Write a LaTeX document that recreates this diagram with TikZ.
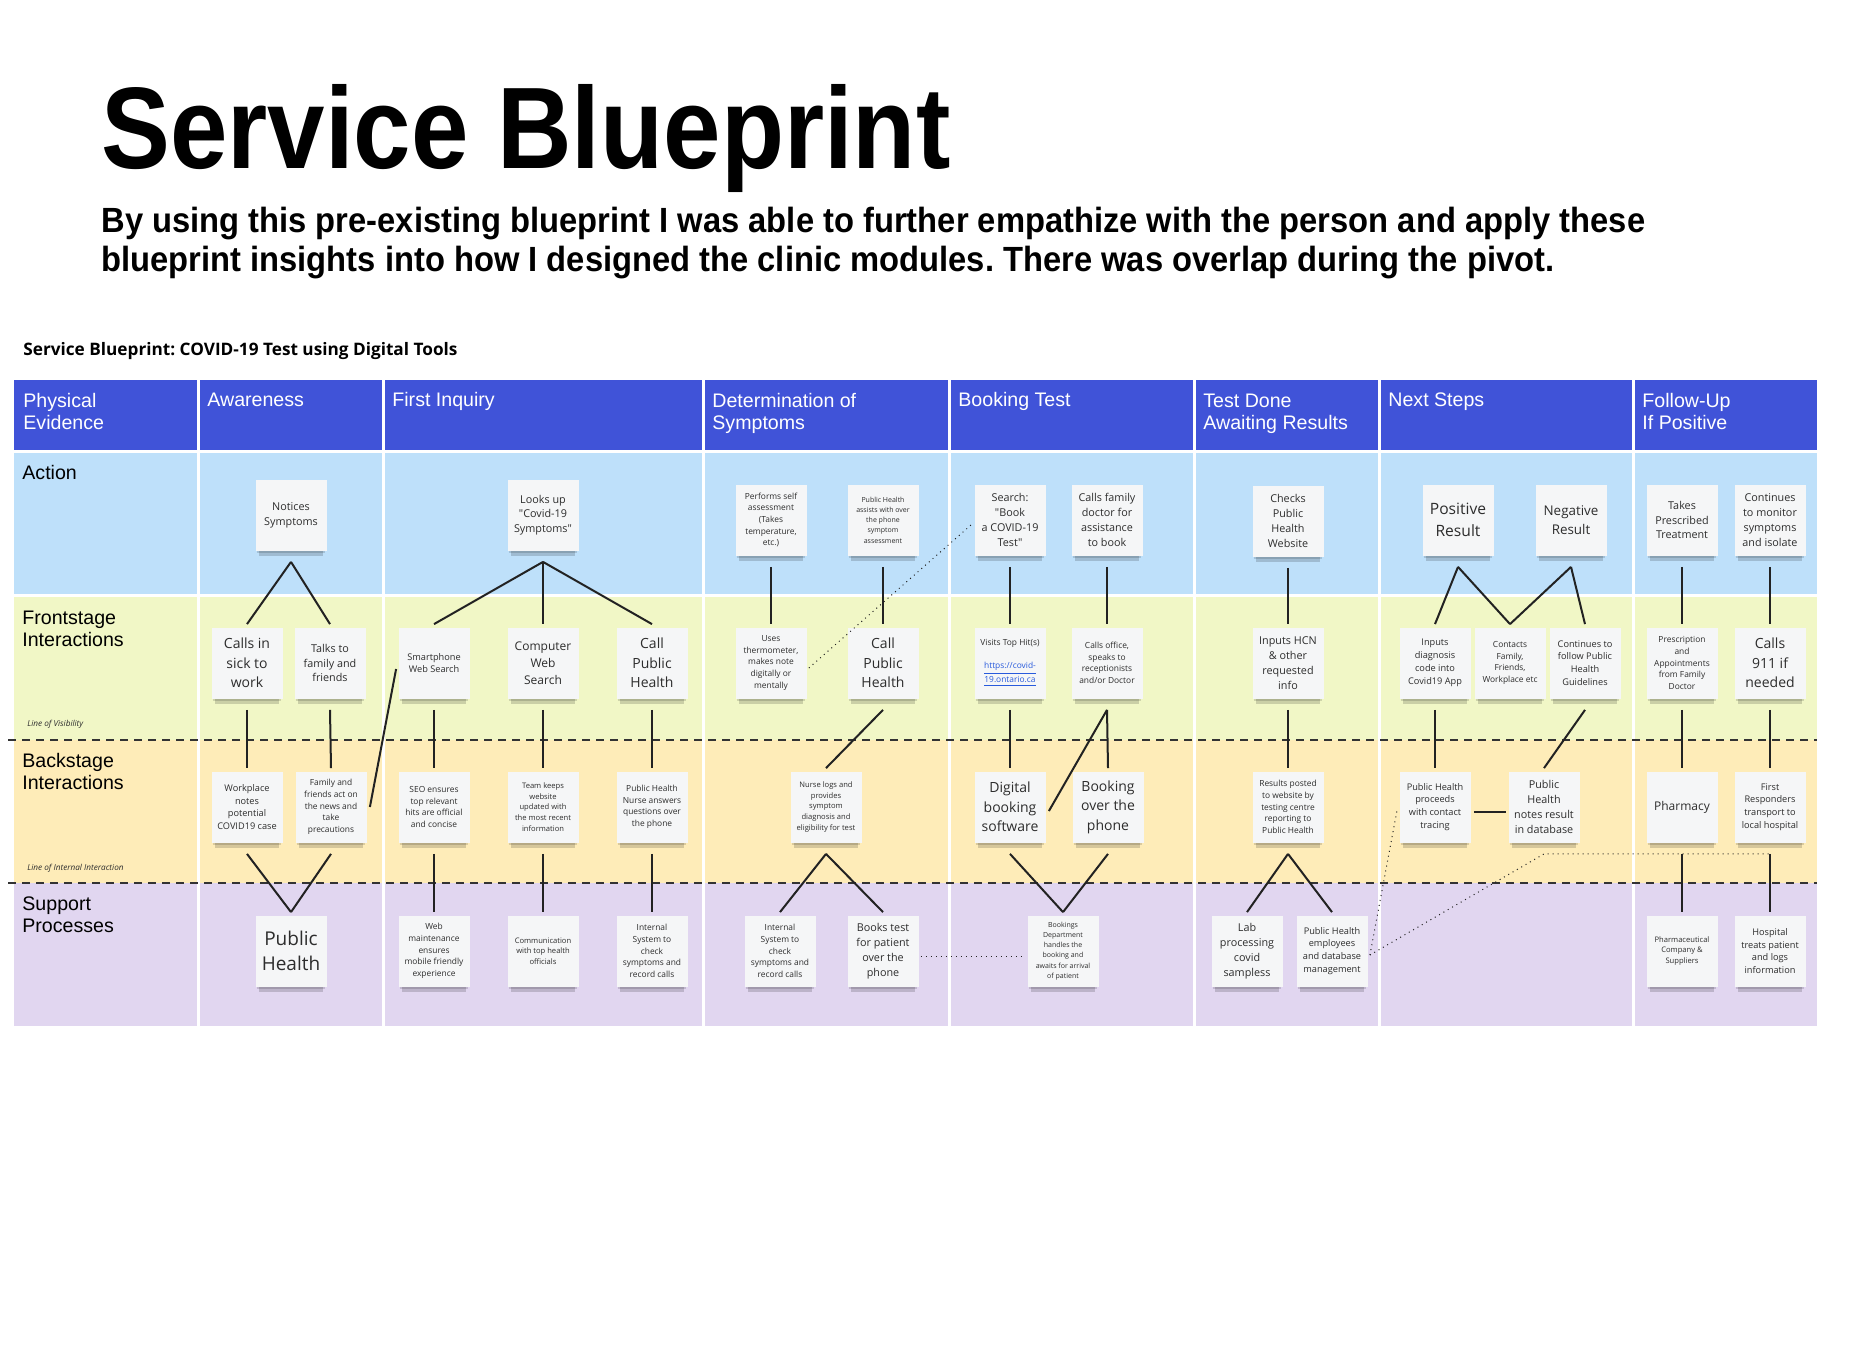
\documentclass[tikz,border=0pt]{standalone}
\usepackage{fontspec}
\setmainfont{Liberation Sans}
\newfontfamily\notefont{Open Sans}
\newfontfamily\titlefont[FakeStretch=0.89]{Liberation Sans}
\newfontfamily\subfont[FakeStretch=0.935]{Liberation Sans}
\usetikzlibrary{shadows}
\frenchspacing

\definecolor{hdrblue}{RGB}{64,83,216}
\definecolor{actblue}{RGB}{190,224,250}
\definecolor{frontgreen}{RGB}{241,247,198}
\definecolor{backyellow}{RGB}{254,236,184}
\definecolor{supppurple}{RGB}{225,214,240}
\definecolor{notefill}{RGB}{245,246,247}
\definecolor{notetext}{RGB}{45,45,45}
\definecolor{linkgray}{RGB}{34,34,34}
\definecolor{linkblue}{RGB}{40,90,220}

\tikzset{
  note/.style={fill=notefill, minimum width=35.5pt, minimum height=35.5pt,
    inner sep=0.5pt, align=center, text=notetext,
    general shadow={fill=black, opacity=0.14, shadow scale=0.96, shadow yshift=-2.2pt},
    general shadow={fill=black, opacity=0.16, shadow scale=0.9, shadow yshift=-4.8pt}},
  fxs/.style={font=\notefont\fontsize{3.5}{5.1}\selectfont},
  fxsb/.style={font=\notefont\fontsize{3.8}{5.3}\selectfont},
  fs/.style={font=\notefont\fontsize{4.2}{5.8}\selectfont},
  fms/.style={font=\notefont\fontsize{4.6}{6.4}\selectfont},
  fm/.style={font=\notefont\fontsize{5.4}{7.4}\selectfont},
  fl/.style={font=\notefont\fontsize{7}{9.7}\selectfont},
  fxl/.style={font=\notefont\fontsize{7.8}{10.8}\selectfont},
  fxxl/.style={font=\notefont\fontsize{9.5}{12.5}\selectfont},
  link/.style={draw=linkgray, line width=1pt},
  dotlink/.style={draw=linkgray, line width=0.5pt, dotted},
  divider/.style={draw=black!80, line width=1pt, dash pattern=on 4pt off 3pt},
  hdrtxt/.style={text=white, font=\fontsize{9.8}{10.8}\selectfont, align=left, anchor=base west, inner sep=0pt},
  lanetxt/.style={text=black, font=\fontsize{9.8}{10.8}\selectfont, align=left, anchor=base west, inner sep=0pt},
  linetxt/.style={text=notetext, font=\notefont\itshape\fontsize{4.1}{5}\selectfont, anchor=base west, inner sep=0pt}
}

\begin{document}
\begin{tikzpicture}[x=0.5pt, y=-0.5pt]
  \useasboundingbox (0,0) rectangle (1856,1358);

  % titles (base = last line)
  \node[anchor=base west, inner sep=0pt, font=\titlefont\bfseries\fontsize{58}{60}\selectfont] (title) at (101,169) {Service Blueprint};
  \node[anchor=base west, inner sep=0pt, align=left, font=\subfont\bfseries\fontsize{17.5}{19.5}\selectfont] (subtitle) at (101,272)
    {By using this pre-existing blueprint I was able to further empathize with the person and apply these\\
     blueprint insights into how I designed the clinic modules. There was overlap during the pivot.};
  \node[anchor=base west, inner sep=0pt, font=\notefont\bfseries\fontsize{8.6}{10}\selectfont] (boardtitle) at (23,356)
    {Service Blueprint: COVID-19 Test using Digital Tools};

  % lanes
  \fill[hdrblue] (14,380) rectangle (1817,451);
  \fill[actblue] (14,451) rectangle (1817,595);
  \fill[frontgreen] (14,595) rectangle (1817,740);
  \fill[backyellow] (14,740) rectangle (1817,883);
  \fill[supppurple] (14,883) rectangle (1817,1026);
  \foreach \x in {198,383,703,949,1194,1379,1633}
    \draw[white, line width=1.5pt] (\x,380) -- (\x,1026);
  \draw[white, line width=1.5pt] (14,451) -- (1817,451);
  \draw[white, line width=1.5pt] (14,595) -- (1817,595);
  \draw[divider] (8,740) -- (1817,740);
  \draw[divider] (8,883) -- (1817,883);

  % header and lane labels
  \foreach \x/\y/\t [count=\i] in {23/429/{Physical\\Evidence}, 207/407/Awareness, 392/407/First Inquiry,
      712/429/{Determination of\\Symptoms}, 958/407/Booking Test, 1203/429/{Test Done\\Awaiting Results},
      1388/407/Next Steps, 1642/429/{Follow-Up\\If Positive}}
    \node[hdrtxt] (hdr\i) at (\x,\y) {\t};
  \foreach \y/\t [count=\i] in {479/Action, 646/{Frontstage\\Interactions},
      789/{Backstage\\Interactions}, 932/{Support\\Processes}}
    \node[lanetxt] (lane\i) at (22,\y) {\t};
  \node[linetxt] (visline) at (27,726) {Line of Visibility};
  \node[linetxt] (intline) at (27,870) {Line of Internal Interaction};

  % Awareness
  \node[note, fm] (nsym) at (291,515) {Notices\\Symptoms};
  \node[note, fl] (calls) at (247,663) {Calls in\\sick to\\work};
  \node[note, fm] (talks) at (330,663) {Talks to\\family and\\friends};
  \node[note, fms] (work) at (247,807) {Workplace\\notes\\potential\\COVID19 case};
  \node[note, fs] (famact) at (331,807) {Family and\\friends act on\\the news and\\take\\precautions};
  \node[note, fxxl] (ph) at (291,951) {Public\\Health};

  % First Inquiry
  \node[note, fm] (looks) at (543,515) {Looks up\\"Covid-19\\Symptoms"};
  \node[note, fms] (smart) at (434,663) {Smartphone\\Web Search};
  \node[note, fl, font=\notefont\fontsize{6}{8.5}\selectfont] (comp) at (543,663) {Computer\\Web\\Search};
  \node[note, fl] (callpha) at (652,663) {Call\\Public\\Health};
  \node[note, fs] (seo) at (434,807) {SEO ensures\\top relevant\\hits are official\\and concise};
  \node[note, fxsb] (team) at (543,807) {Team keeps\\website\\updated with\\the most recent\\information};
  \node[note, fs] (nurse) at (652,807) {Public Health\\Nurse answers\\questions over\\the phone};
  \node[note, fs] (webm) at (434,951) {Web\\maintenance\\ensures\\mobile friendly\\experience};
  \node[note, fxsb] (comm) at (543,951) {Communication\\with top health\\officials};
  \node[note, fs] (intsysa) at (652,951) {Internal\\System to\\check\\symptoms and\\record calls};

  % Determination of Symptoms
  \node[note, fs] (perf) at (771,520) {Performs self\\assessment\\(Takes\\temperature,\\etc.)};
  \node[note, fxs] (phassist) at (883,520) {Public Health\\assists with over\\the phone\\symptom\\assessment};
  \node[note, fs] (therm) at (771,663) {Uses\\thermometer,\\makes note\\digitally or\\mentally};
  \node[note, fl] (callphb) at (883,663) {Call\\Public\\Health};
  \node[note, fxsb] (nlogs) at (826,807) {Nurse logs and\\provides\\symptom\\diagnosis and\\eligibility for test};
  \node[note, fs] (intsysb) at (780,951) {Internal\\System to\\check\\symptoms and\\record calls};
  \node[note, fm] (bookst) at (883,951) {Books test\\for patient\\over the\\phone};

  % Booking Test
  \node[note, fm] (search) at (1010,520) {Search:\\"Book\\a COVID-19\\Test"};
  \node[note, fm] (callfam) at (1107,520) {Calls family\\doctor for\\assistance\\to book};
  \node[note, fs] (visits) at (1010,663) {Visits Top Hit(s)\\[5.5pt]\textcolor{linkblue}{\underline{https://covid-}}\\\textcolor{linkblue}{\underline{19.ontario.ca}}};
  \node[note, fs] (calloff) at (1107,663) {Calls office,\\speaks to\\receptionists\\and/or Doctor};
  \node[note, fl] (digi) at (1010,807) {Digital\\booking\\software};
  \node[note, fl] (bookph) at (1108,807) {Booking\\over the\\phone};
  \node[note, fxs] (bdept) at (1063,951) {Bookings\\Department\\handles the\\booking and\\awaits for arrival\\of patient};

  % Test Done Awaiting Results
  \node[note, fm] (checks) at (1288,521) {Checks\\Public\\Health\\Website};
  \node[note, fm] (hcn) at (1288,663) {Inputs HCN\\\& other\\requested\\info};
  \node[note, fs] (results) at (1288,807) {Results posted\\to website by\\testing centre\\reporting to\\Public Health};
  \node[note, fm] (lab) at (1247,951) {Lab\\processing\\covid\\sampless};
  \node[note, fms] (phemp) at (1332,951) {Public Health\\employees\\and database\\management};

  % Next Steps
  \node[note, fxl] (pos) at (1458,520) {Positive\\Result};
  \node[note, fl, font=\notefont\fontsize{6.7}{9.5}\selectfont] (neg) at (1571,520) {Negative\\Result};
  \node[note, fms] (diag) at (1435,663) {Inputs\\diagnosis\\code into\\Covid19 App};
  \node[note, fs] (contacts) at (1510,663) {Contacts\\Family,\\Friends,\\Workplace etc};
  \node[note, fms] (follow) at (1585,663) {Continues to\\follow Public\\Health\\Guidelines};
  \node[note, fms] (trace) at (1435,807) {Public Health\\proceeds\\with contact\\tracing};
  \node[note, fm] (notes) at (1544,807) {Public\\Health\\notes result\\in database};

  % Follow-Up If Positive
  \node[note, fm] (takes) at (1682,520) {Takes\\Prescribed\\Treatment};
  \node[note, fm] (contmon) at (1770,520) {Continues\\to monitor\\symptoms\\and isolate};
  \node[note, fs] (presc) at (1682,663) {Prescription\\and\\Appointments\\from Family\\Doctor};
  \node[note, fl] (cnine) at (1770,663) {Calls\\911 if\\needed};
  \node[note, fl, font=\notefont\fontsize{6}{8.5}\selectfont] (pharm) at (1682,807) {Pharmacy};
  \node[note, fms] (resp) at (1770,807) {First\\Responders\\transport to\\local hospital};
  \node[note, fxsb] (pharco) at (1682,951) {Pharmaceutical\\Company \&\\Suppliers};
  \node[note, fms] (hosp) at (1770,951) {Hospital\\treats patient\\and logs\\information};

  % connectors
  \foreach \a/\b in {nsym/calls, nsym/talks, calls/work, talks/famact, work/ph, famact/ph,
      looks/smart, looks/comp, looks/callpha, smart/seo, comp/team, callpha/nurse,
      seo/webm, team/comm, nurse/intsysa, perf/therm, phassist/callphb, callphb/nlogs,
      nlogs/intsysb, nlogs/bookst, search/visits, callfam/calloff, visits/digi,
      calloff/bookph, digi/bdept, bookph/bdept, checks/hcn, hcn/results, results/lab,
      results/phemp, pos/diag, pos/contacts, neg/contacts, neg/follow, diag/trace,
      follow/notes, takes/presc, contmon/cnine, presc/pharm, cnine/resp, pharm/pharco, resp/hosp}
    \draw[link] ([yshift=-5.5pt]\a.south) -- ([yshift=1.5pt]\b.north);
  \draw[link] ([xshift=1.5pt]famact.east) -- ([xshift=-1pt, yshift=-3pt]smart.west);
  \draw[link] ([yshift=-5.5pt]calloff.south) -- ([xshift=1.5pt, yshift=-2pt]digi.east);
  \draw[link] ([xshift=1.5pt, yshift=-2.5pt]trace.east) -- ([xshift=-1pt, yshift=-2.5pt]notes.west);

  % dotted hand-offs
  \draw[dotlink] ([xshift=1pt, yshift=-2.5pt]therm.east) -- ([xshift=-1pt, yshift=-2pt]search.west);
  \draw[dotlink] ([xshift=1pt, yshift=-2.5pt]bookst.east) -- ([xshift=-1pt, yshift=-2.5pt]bdept.west);
  \draw[dotlink] ([xshift=1pt, yshift=-2pt]phemp.east) -- ([xshift=-1pt, yshift=-1.5pt]trace.west);
  \draw[dotlink] ([xshift=1pt, yshift=-2pt]phemp.east) -- ([yshift=-5.5pt]notes.south) -- ([yshift=-5.5pt]resp.south);
\end{tikzpicture}
\end{document}
